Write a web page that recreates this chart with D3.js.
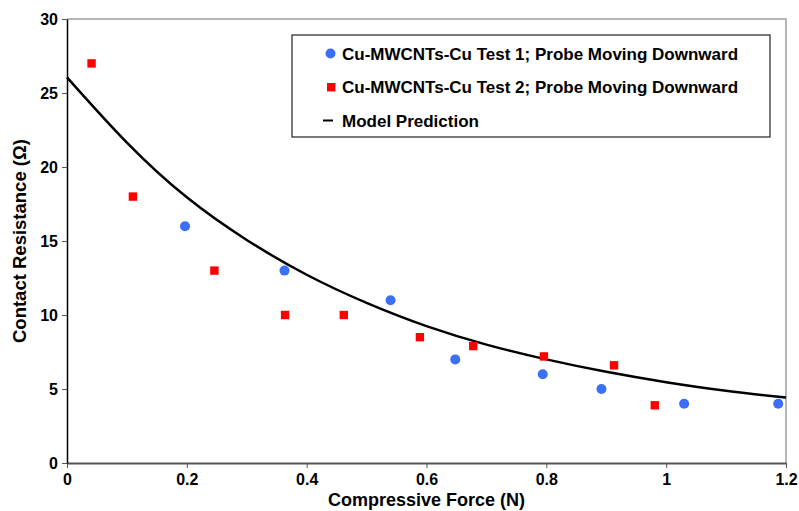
<!DOCTYPE html>
<html>
<head>
<meta charset="utf-8">
<script src="https://cdn.jsdelivr.net/npm/d3@7"></script>
<style>
  body { margin: 0; background: #fff; }
  svg { display: block; font-family: "Liberation Sans", Arial, sans-serif; font-weight: bold; }
</style>
</head>
<body>
<svg width="799" height="511"></svg>
<script>
// values
var test1 = [[0.197, 16], [0.363, 13], [0.54, 11], [0.648, 7], [0.794, 6],
             [0.892, 5], [1.03, 4], [1.187, 4]];
var test2 = [[0.041, 27], [0.11, 18], [0.246, 13], [0.364, 10], [0.462, 10],
             [0.589, 8.5], [0.678, 7.9], [0.796, 7.2], [0.913, 6.6], [0.981, 3.9]];
// model curve, every 0.1 N
var modelX = [0, 0.1, 0.2, 0.3, 0.4, 0.5, 0.6, 0.7, 0.8, 0.9, 1.0, 1.1, 1.2];
var modelY = [26.06, 21.65, 17.95, 15.07, 12.72, 10.82, 9.25, 8.0, 7.0, 6.16, 5.46, 4.88, 4.42];
var xTicks = [0, 0.2, 0.4, 0.6, 0.8, 1, 1.2];
var yTicks = [0, 5, 10, 15, 20, 25, 30];
var legendLabels = ["Cu-MWCNTs-Cu Test 1; Probe Moving Downward",
                    "Cu-MWCNTs-Cu Test 2; Probe Moving Downward",
                    "Model Prediction"];

var svg = d3.select("svg"),
    margin = {top: 19, right: 13, bottom: 48, left: 67},
    width = +svg.attr("width"),
    height = +svg.attr("height");

var x = d3.scaleLinear().domain([0, 1.2]).range([margin.left, width - margin.right]);
var y = d3.scaleLinear().domain([0, 30]).range([height - margin.bottom, margin.top]);

// top / right frame
svg.append("path")
    .attr("d", "M" + x(0) + "," + y(30) + "H" + x(1.2) + "V" + y(0))
    .attr("fill", "none")
    .attr("stroke", "#a0a0a0")
    .attr("stroke-width", 1.5);

var xAxis = svg.append("g")
    .attr("class", "x axis")
    .attr("transform", "translate(0," + y(0) + ")")
    .call(d3.axisBottom(x).tickValues(xTicks).tickSize(5).tickSizeOuter(0).tickPadding(6)
          .tickFormat(function(d) { return d; }));
xAxis.select(".domain").attr("stroke", "#555").attr("stroke-width", 2);
xAxis.selectAll(".tick line").attr("stroke", "#555");
xAxis.selectAll("text").attr("fill", "#000").style("font-size", "16px").style("font-weight", "bold");

var yAxis = svg.append("g")
    .attr("class", "y axis")
    .attr("transform", "translate(" + x(0) + ",0)")
    .call(d3.axisLeft(y).tickValues(yTicks).tickSize(5).tickSizeOuter(0).tickPadding(4));
yAxis.select(".domain").attr("stroke", "#000").attr("stroke-width", 1.5);
yAxis.selectAll(".tick line").attr("stroke", "#555");
yAxis.selectAll("text").attr("fill", "#000").style("font-size", "16px").style("font-weight", "bold");

svg.append("text")
    .attr("x", (x(0) + x(1.2)) / 2)
    .attr("y", 506)
    .attr("text-anchor", "middle")
    .style("font-size", "18px")
    .text("Compressive Force (N)");

svg.append("text")
    .attr("transform", "translate(26," + ((y(0) + y(30)) / 2) + ") rotate(-90)")
    .attr("text-anchor", "middle")
    .style("font-size", "18.5px")
    .text("Contact Resistance (\u03A9)");

// model line
var line = d3.line()
    .x(function(d, i) { return x(modelX[i]); })
    .y(function(d) { return y(d); })
    .curve(d3.curveNatural);

svg.append("path")
    .datum(modelY)
    .attr("fill", "none")
    .attr("stroke", "#000")
    .attr("stroke-width", 2.5)
    .attr("d", line);

svg.append("g").selectAll("circle")
    .data(test1).enter()
    .append("circle")
    .attr("cx", function(d) { return x(d[0]); })
    .attr("cy", function(d) { return y(d[1]); })
    .attr("r", 5)
    .attr("fill", "#3b6ff6");

svg.append("g").selectAll("rect")
    .data(test2).enter()
    .append("rect")
    .attr("x", function(d) { return x(d[0]) - 4.2; })
    .attr("y", function(d) { return y(d[1]) - 4.2; })
    .attr("width", 8.4)
    .attr("height", 8.4)
    .attr("fill", "#ff0000");

// legend
var legend = svg.append("g").attr("transform", "translate(292,35)");
legend.append("rect")
    .attr("width", 478)
    .attr("height", 102)
    .attr("fill", "#fff")
    .attr("stroke", "#222")
    .attr("stroke-width", 1.2);

var rows = legend.selectAll(".row")
    .data(legendLabels).enter()
    .append("g")
    .attr("transform", function(d, i) { return "translate(0," + (18.5 + i * 33.5) + ")"; });

rows.append("text")
    .attr("x", 50)
    .attr("y", 6)
    .style("font-size", "17px")
    .text(function(d) { return d; });

legend.append("circle").attr("cx", 38.5).attr("cy", 18.5).attr("r", 5).attr("fill", "#3b6ff6");
legend.append("rect").attr("x", 35).attr("y", 48).attr("width", 8.4).attr("height", 8.4).attr("fill", "#ff0000");
legend.append("line").attr("x1", 31).attr("x2", 41).attr("y1", 85.5).attr("y2", 85.5)
    .attr("stroke", "#000").attr("stroke-width", 2);
</script>
</body>
</html>
